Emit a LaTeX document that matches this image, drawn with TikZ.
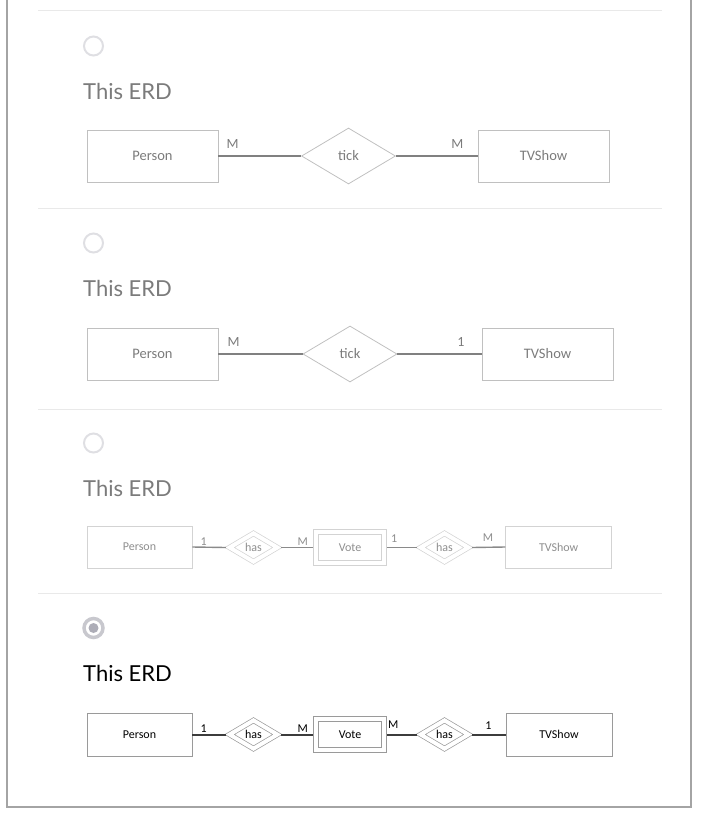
\documentclass[tikz,border=0pt]{standalone}
\usepackage{fontspec}
\setmainfont{Carlito}
\newfontfamily\latofont{Lato}
\usepackage{tikz}
\usetikzlibrary{
    positioning,      % For placing the cardinality labels next to the shapes
    shapes.geometric  % For the diamond shape of the relationships
}

\definecolor{frame_gray}{HTML}{A4A4A4}
\definecolor{sep_gray}{HTML}{E9E9E9}
\definecolor{radio_gray}{HTML}{DFDFE3}
\definecolor{radio_on}{HTML}{C8C8CE}
\definecolor{radio_dot}{HTML}{ADADB7}
\definecolor{faint_text}{HTML}{7B7B7B}
\definecolor{faint_box}{HTML}{C0C0C0}
\definecolor{faint_line}{HTML}{808080}
\definecolor{pale_text}{HTML}{8E8E8E}
\definecolor{pale_box}{HTML}{D3D3D3}
\definecolor{pale_line}{HTML}{8A8A8A}
\definecolor{dark_box}{HTML}{9A9A9A}
\definecolor{dark_line}{HTML}{3C3C3C}

\begin{document}
\begin{tikzpicture}[
    x=1pt, y=-1pt,
    % Radio buttons in front of each answer
    radio_style/.style={
        circle, draw=radio_gray, line width=2pt,
        minimum size=19pt, inner sep=0pt
    },
    % "This ERD" headings
    title_style/.style={
        anchor=base west, inner sep=0pt,
        font=\latofont\fontsize{22}{26}\selectfont, text=#1
    },
    % Large entities and relationships (answers 1 and 2)
    big_entity/.style={
        rectangle, draw=faint_box, line width=0.8pt, text=faint_text,
        minimum width=131pt, minimum height=52pt, inner sep=0pt,
        font=\fontsize{14.5}{16}\selectfont
    },
    big_rel/.style={
        diamond, draw=faint_box, line width=0.8pt, text=faint_text,
        minimum width=94pt, minimum height=56pt, inner sep=0pt,
        font=\fontsize{14.5}{16}\selectfont
    },
    big_link/.style={draw=faint_line, line width=1.4pt},
    big_card/.style={
        inner sep=0pt, text=faint_text,
        font=\fontsize{14}{16}\selectfont
    },
    % Small entities, weak entity and identifying relationships (answers 3 and 4)
    small_entity/.style={
        rectangle, draw=#1, line width=0.8pt,
        minimum width=105pt, minimum height=42pt, inner sep=0pt,
        font=\fontsize{12}{14}\selectfont
    },
    weak_entity/.style={
        rectangle, draw=#1, double, double distance=4.6pt, line width=0.7pt,
        minimum width=68pt, minimum height=31pt, inner sep=0pt, outer sep=3pt,
        font=\fontsize{12}{14}\selectfont
    },
    id_rel/.style={
        diamond, draw=#1, double, double distance=4pt, line width=0.7pt,
        minimum width=50pt, minimum height=30.5pt, inner sep=0pt, outer sep=2.7pt,
        font=\fontsize{12}{14}\selectfont
    },
    small_card/.style={
        inner sep=0pt, text=#1,
        font=\fontsize{12}{14}\selectfont
    }
]
    \useasboundingbox (0,0) rectangle (713,814);

    % 1. Frame of the page and the separators between the answers.
    \draw[frame_gray, line width=1.2pt] (7,0) -- (7,807) -- (691,807) -- (691,0);
    \foreach \ypos in {10, 208, 409, 593}
        \draw[sep_gray, line width=1pt] (38,\ypos) -- (662,\ypos);

    % 2. Radio buttons and headings.
    \node[radio_style] (radio_a) at (93.5,46) {};
    \node[radio_style] (radio_b) at (93.5,243) {};
    \node[radio_style] (radio_c) at (93.5,443) {};
    \node[radio_style, draw=radio_on, line width=3.5pt] (radio_d) at (93.5,628) {};
    \node[circle, fill=radio_dot, minimum size=10pt, inner sep=0pt] (radio_d_dot) at (radio_d) {};

    \node[title_style=faint_text] (title_a) at (83,99) {This ERD};
    \node[title_style=faint_text] (title_b) at (83,296) {This ERD};
    \node[title_style=faint_text] (title_c) at (83,496) {This ERD};
    \node[title_style=black] (title_d) at (83,681) {This ERD};

    % 3. Answer 1: Person M -- tick -- M TVShow.
    \node[big_entity] (person_a) at (152.5,156) {Person};
    \node[big_rel] (tick_a) at (348.5,156) {tick};
    \node[big_entity] (tvshow_a) at (543.5,156) {TVShow};
    \draw[big_link] (person_a.east) -- (tick_a.west);
    \draw[big_link] (tick_a.east) -- (tvshow_a.west);
    \node[big_card, above right=7pt and 8pt of person_a.east] (card_a1) {M};
    \node[big_card, above left=7pt and 14pt of tvshow_a.west] (card_a2) {M};

    % 4. Answer 2: Person M -- tick -- 1 TVShow.
    \node[big_entity] (person_b) at (152.5,354) {Person};
    \node[big_rel] (tick_b) at (350,354) {tick};
    \node[big_entity] (tvshow_b) at (547.5,354) {TVShow};
    \draw[big_link] (person_b.east) -- (tick_b.west);
    \draw[big_link] (tick_b.east) -- (tvshow_b.west);
    \node[big_card, above right=7pt and 9pt of person_b.east] (card_b1) {M};
    \node[big_card, above left=7pt and 17pt of tvshow_b.west] (card_b2) {1};

    % 5. Answer 3: Person 1 -- has -- M Vote 1 -- has -- M TVShow.
    \node[small_entity=pale_box, text=pale_text] (person_c) at (139.5,547) {Person};
    \node[id_rel=pale_box, text=pale_text] (has_c1) at (253.5,547.5) {has};
    \node[weak_entity=pale_box, text=pale_text] (vote_c) at (350,547.5) {Vote};
    \node[id_rel=pale_box, text=pale_text] (has_c2) at (444.5,547.5) {has};
    \node[small_entity=pale_box, text=pale_text, minimum width=106pt] (tvshow_c) at (558.7,547) {TVShow};
    \draw[pale_line, line width=1.4pt] (person_c.east) -- (has_c1.west);
    \draw[pale_line, line width=1.4pt] (has_c1.east) -- (vote_c.west);
    \draw[pale_line, line width=1.4pt] (vote_c.east) -- (has_c2.west);
    \draw[pale_line, line width=1.4pt] (has_c2.east) -- (tvshow_c.west);
    \node[small_card=pale_text, above right=1.5pt and 8pt of person_c.east] (card_c1) {1};
    \node[small_card=pale_text, above left=2pt and 5pt of vote_c.west] (card_c2) {M};
    \node[small_card=pale_text, above right=5pt and 4pt of vote_c.east] (card_c3) {1};
    \node[small_card=pale_text, above left=5pt and 12pt of tvshow_c.west] (card_c4) {M};

    % 6. Answer 4 (selected): Person 1 -- has -- M Vote M -- has -- 1 TVShow.
    \node[small_entity=dark_box, minimum height=43pt] (person_d) at (139.5,734.5) {Person};
    \node[id_rel=dark_box] (has_d1) at (253.5,734.5) {has};
    \node[weak_entity=dark_box] (vote_d) at (350,734.5) {Vote};
    \node[id_rel=dark_box] (has_d2) at (444.5,734.5) {has};
    \node[small_entity=dark_box, minimum width=106pt, minimum height=43pt] (tvshow_d) at (559,734.5) {TVShow};
    \draw[dark_line, line width=2pt] (person_d.east) -- (has_d1.west);
    \draw[dark_line, line width=2pt] (has_d1.east) -- (vote_d.west);
    \draw[dark_line, line width=2pt] (vote_d.east) -- (has_d2.west);
    \draw[dark_line, line width=2pt] (has_d2.east) -- (tvshow_d.west);
    \node[small_card=black, above right=1.5pt and 8pt of person_d.east] (card_d1) {1};
    \node[small_card=black, above left=2pt and 5pt of vote_d.west] (card_d2) {M};
    \node[small_card=black, above right=6pt and 1pt of vote_d.east] (card_d3) {M};
    \node[small_card=black, above left=5pt and 14pt of tvshow_d.west] (card_d4) {1};

\end{tikzpicture}
\end{document}
